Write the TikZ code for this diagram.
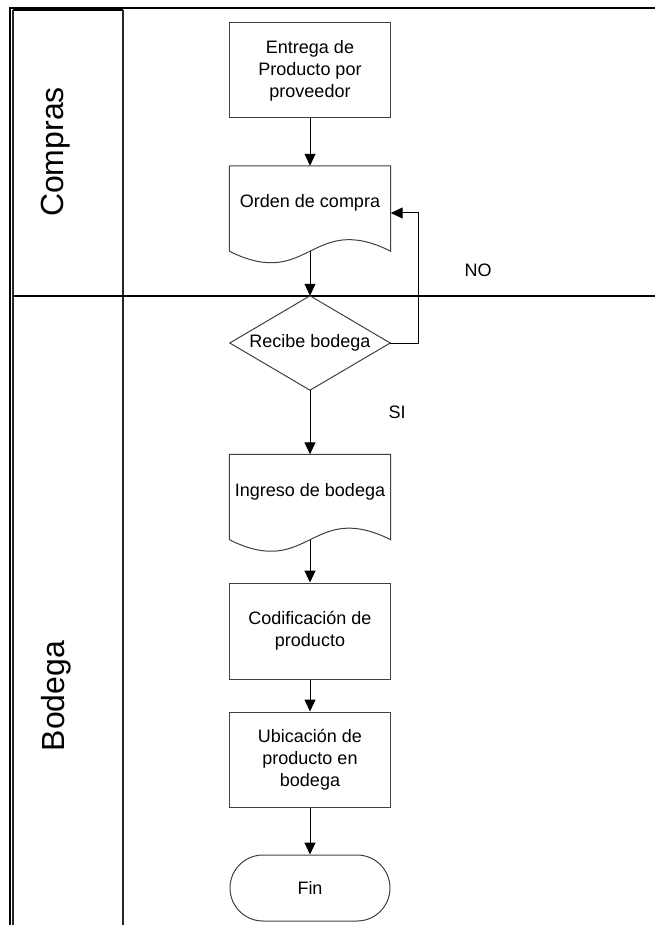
\documentclass[tikz,border=0pt]{standalone}
\usepackage{fontspec}
\setmainfont{Liberation Sans}
\usetikzlibrary{arrows.meta}
\begin{document}
\begin{tikzpicture}[x=1pt,y=-1pt,
  lane/.style={line width=2pt,black},
  laneinner/.style={line width=1.5pt,black!85},
  shapeline/.style={draw=black!75,line width=1pt},
  txt/.style={font=\fontsize{18}{22}\selectfont,align=center,text=black},
  procbox/.style={shapeline,txt,rectangle,minimum width=161pt,minimum height=95pt,inner sep=0pt},
  docbox/.style={txt,rectangle,minimum width=161pt,minimum height=85pt,inner sep=0pt,text depth=15pt},
  decbox/.style={txt,rectangle,minimum width=160pt,minimum height=94pt,inner sep=0pt},
  termbox/.style={shapeline,txt,rectangle,rounded corners=33pt,minimum width=160pt,minimum height=66pt,inner sep=0pt},
  flow/.style={black,line width=1pt,-{Triangle[width=11pt,length=12pt]}},
  lanetitle/.style={font=\fontsize{32}{36}\selectfont,rotate=90,inner sep=0pt}
]
\useasboundingbox (0,0) rectangle (655,925);

% swimlane frame
\draw[lane] (9,8) -- (655,8);
\draw[lane] (10,8) -- (10,925);
\draw[laneinner] (13,10) -- (13,925);
\draw[lane] (13,10) -- (123,10);
\draw[laneinner] (123,10) -- (123,925);
\draw[lane] (13,296) -- (655,296);

% lane titles
\node[lanetitle] (tcompras) at (56,152) {Compras};
\node[lanetitle] (tbodega) at (56,696) {Bodega};

% process steps
\node[procbox] (entrega) at (310,70.5) {Entrega de\\Producto por\\proveedor};

\node[docbox] (orden) at (310,208.5) {Orden de compra};
\draw[shapeline] (orden.south west) -- (orden.north west) -- (orden.north east) -- (orden.south east)
  .. controls +(-80,-40) and +(80,40) .. (orden.south west);

\node[decbox] (dec) at (310,343) {Recibe bodega};
\draw[shapeline] (dec.north) -- (dec.east) -- (dec.south) -- (dec.west) -- cycle;

\node[docbox] (ingreso) at (310,497) {Ingreso de bodega};
\draw[shapeline] (ingreso.south west) -- (ingreso.north west) -- (ingreso.north east) -- (ingreso.south east)
  .. controls +(-80,-40) and +(80,40) .. (ingreso.south west);

\node[procbox,minimum height=96pt] (cod) at (310,631) {Codificación de\\producto};
\node[procbox] (ubi) at (310,759.5) {Ubicación de\\producto en\\bodega};
\node[termbox] (fin) at (310,888) {Fin};

% branch labels
\node[txt] (lno) at (478,270) {NO};
\node[txt] (lsi) at (397,412) {SI};

% connectors
\coordinate (nocorner) at (418,213);
\draw[flow] (entrega.south) -- (orden.north);
\draw[flow] (orden.south) -- (dec.north);
\draw[flow] (dec.east) -| (nocorner) -- (orden.east |- nocorner);
\draw[flow] (dec.south) -- (ingreso.north);
\draw[flow] (ingreso.south) -- (cod.north);
\draw[flow] (cod.south) -- (ubi.north);
\draw[flow] (ubi.south) -- (fin.north);
\end{tikzpicture}
\end{document}
